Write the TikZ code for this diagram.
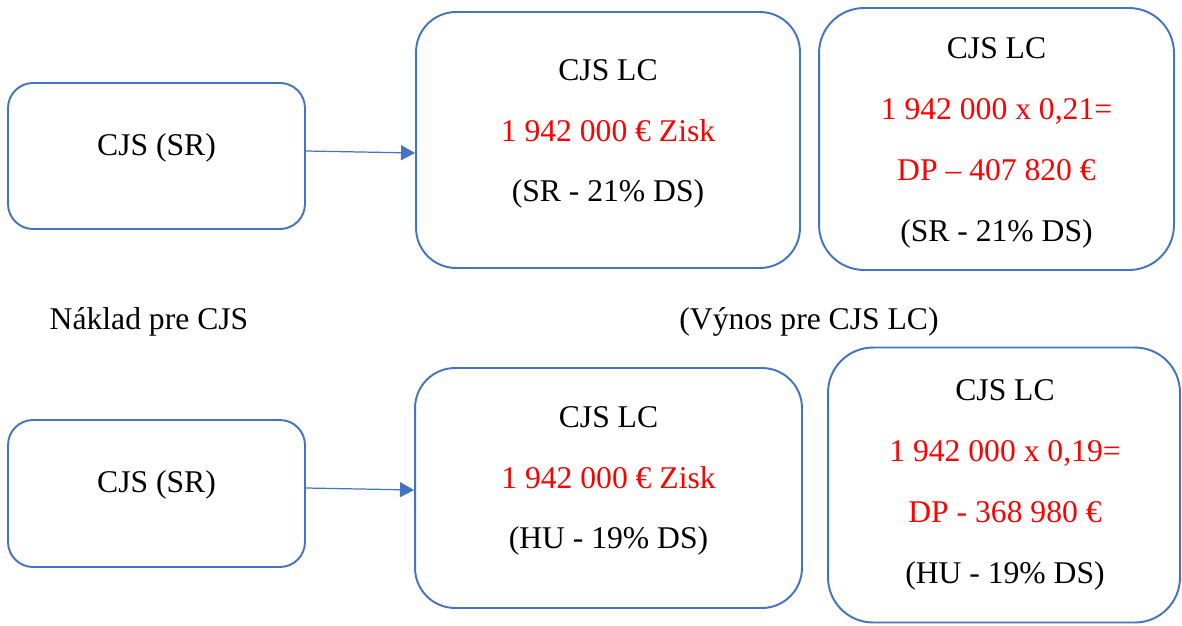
\documentclass[tikz,border=0pt]{standalone}
\usepackage{fontspec}
\setmainfont{Liberation Serif}
\usetikzlibrary{arrows.meta}
\definecolor{wordblue}{RGB}{68,114,196}
\tikzset{
  box/.style={draw=wordblue, line width=1.1pt, inner sep=0pt},
  txt/.style={align=center, inner sep=0pt, font=\fontsize{18}{34.6}\selectfont},
  hot/.style={text=red},
  flow/.style={draw=wordblue, line width=0.7pt, -{Triangle[length=8pt,width=8.5pt]}}
}
\begin{document}
\begin{tikzpicture}[x=0.02cm,y=-0.02cm]
    \useasboundingbox (0,0) rectangle (1182,625);

    % upper row (SR)
    \node[box, rounded corners=0.5cm, minimum width=5.94cm, minimum height=2.92cm] (boxA1) at (156.5,156) {};
    \node[box, rounded corners=0.8cm, minimum width=7.68cm, minimum height=5.12cm] (boxB1) at (608,140) {};
    \node[box, rounded corners=0.9cm, minimum width=7.1cm, minimum height=5.24cm] (boxC1) at (996.5,139) {};

    \node[txt] (tA1) at (156.5,148) {CJS (SR)};
    \node[txt] (tB1) at (608,134) {CJS LC\\ \textcolor{red}{1 942 000 € Zisk}\\ (SR - 21\% DS)};
    \node[txt] (tC1) at (996.5,143) {CJS LC\\ \textcolor{red}{1 942 000 x 0,21=}\\ \textcolor{red}{DP – 407 820 €}\\ (SR - 21\% DS)};

    \draw[flow] ([yshift=0.1cm]boxA1.east) -- ([yshift=-0.26cm]boxB1.west);

    % middle captions
    \node[txt] (naklad) at (149,322) {Náklad pre CJS};
    \node[txt] (vynos) at (809,322) {(Výnos pre CJS LC)};

    % lower row (HU)
    \node[box, rounded corners=0.5cm, minimum width=5.94cm, minimum height=2.94cm] (boxA2) at (156.5,493.5) {};
    \node[box, rounded corners=0.8cm, minimum width=7.74cm, minimum height=4.8cm] (boxB2) at (608.5,488) {};
    \node[box, rounded corners=0.9cm, minimum width=7.04cm, minimum height=5.5cm] (boxC2) at (1004,485) {};

    \node[txt] (tA2) at (156.5,485) {CJS (SR)};
    \node[txt] (tB2) at (608.5,481) {CJS LC\\ \textcolor{red}{1 942 000 € Zisk}\\ (HU - 19\% DS)};
    \node[txt] (tC2) at (1005,485) {CJS LC\\ \textcolor{red}{1 942 000 x 0,19=}\\ \textcolor{red}{DP - 368 980 €}\\ (HU - 19\% DS)};

    \draw[flow] ([yshift=0.11cm]boxA2.east) -- ([yshift=-0.04cm]boxB2.west);
\end{tikzpicture}
\end{document}
